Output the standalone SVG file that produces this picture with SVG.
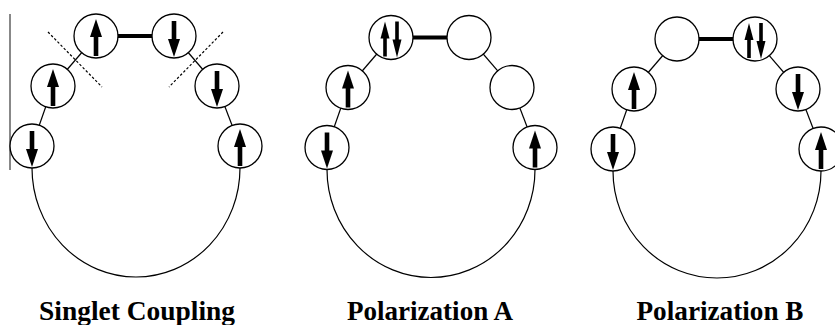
<svg xmlns="http://www.w3.org/2000/svg" width="835" height="325" viewBox="0 0 835 325">
<style>
.c{fill:#fff;stroke:#000;stroke-width:1.3}
.l{stroke:#000;stroke-width:1.2;fill:none}
.b{stroke:#000;stroke-width:4;fill:none}
.d{stroke:#000;stroke-width:1.2;stroke-dasharray:2.5 2;fill:none}
.t{font-family:'Liberation Serif','Times New Roman',Times,'DejaVu Serif',serif;font-weight:700;font-size:27px;text-anchor:middle;fill:#000}
</style>
<defs>
<g id="up"><rect x="-2.3" y="0" width="4.6" height="20"/><polygon points="0,-17 -6,1 6,1"/></g>
<g id="down"><rect x="-2.3" y="-15" width="4.6" height="19"/><polygon points="0,21 -6,3 6,3"/></g>
<g id="up2"><rect x="-1.8" y="0" width="3.6" height="19"/><polygon points="0,-16 -4.5,1 4.5,1"/></g>
<g id="down2"><rect x="-1.8" y="-16" width="3.6" height="19"/><polygon points="0,20 -4.5,2 4.5,2"/></g>
</defs>
<rect width="835" height="325" fill="#fff"/>
<line x1="10" y1="14" x2="10" y2="170" stroke="#888" stroke-width="2"/>
<g id="connectors">
<line class="l" x1="96" y1="36" x2="53" y2="86"/>
<line class="l" x1="53" y1="86" x2="32" y2="146"/>
<line class="l" x1="174" y1="36" x2="217" y2="86"/>
<line class="l" x1="217" y1="86" x2="240" y2="146"/>
<line class="b" x1="96" y1="36" x2="174" y2="36"/>
<path class="l" d="M32,168 A104,109 0 0 0 240,168"/>
<line class="l" x1="391" y1="37.5" x2="348" y2="87.5"/>
<line class="l" x1="348" y1="87.5" x2="327" y2="147.5"/>
<line class="l" x1="469" y1="37.5" x2="512" y2="87.5"/>
<line class="l" x1="512" y1="87.5" x2="535" y2="147.5"/>
<line class="b" x1="391" y1="37.5" x2="469" y2="37.5"/>
<path class="l" d="M327,169.5 A104,108 0 0 0 535,169.5"/>
<line class="l" x1="677" y1="39" x2="634" y2="89"/>
<line class="l" x1="634" y1="89" x2="613" y2="149"/>
<line class="l" x1="755" y1="39" x2="798" y2="89"/>
<line class="l" x1="798" y1="89" x2="821" y2="149"/>
<line class="b" x1="677" y1="39" x2="755" y2="39"/>
<path class="l" d="M613,171 A104,107 0 0 0 821,171"/>
</g>
<g id="cuts">
<line class="d" x1="48" y1="32" x2="102" y2="87"/>
<line class="d" x1="223" y1="32" x2="169" y2="87"/>
</g>
<g id="s1-tl"><circle class="c" cx="96" cy="36" r="22"/><use href="#up" x="96" y="36"/></g>
<g id="s1-tr"><circle class="c" cx="174" cy="36" r="22"/><use href="#down" x="174" y="36"/></g>
<g id="s1-ml"><circle class="c" cx="53" cy="86" r="22"/><use href="#up" x="53" y="86"/></g>
<g id="s1-mr"><circle class="c" cx="217" cy="86" r="22"/><use href="#down" x="217" y="86"/></g>
<g id="s1-bl"><circle class="c" cx="32" cy="146" r="22"/><use href="#down" x="32" y="146"/></g>
<g id="s1-br"><circle class="c" cx="240" cy="146" r="22"/><use href="#up" x="240" y="146"/></g>
<g id="s2-tl"><circle class="c" cx="391" cy="37.5" r="22"/><use href="#up2" x="385" y="37.5"/><use href="#down2" x="397" y="37.5"/></g>
<g id="s2-tr"><circle class="c" cx="469" cy="37.5" r="22"/></g>
<g id="s2-ml"><circle class="c" cx="348" cy="87.5" r="22"/><use href="#up" x="348" y="87.5"/></g>
<g id="s2-mr"><circle class="c" cx="512" cy="87.5" r="22"/></g>
<g id="s2-bl"><circle class="c" cx="327" cy="147.5" r="22"/><use href="#down" x="327" y="147.5"/></g>
<g id="s2-br"><circle class="c" cx="535" cy="147.5" r="22"/><use href="#up" x="535" y="147.5"/></g>
<g id="s3-tl"><circle class="c" cx="677" cy="39" r="22"/></g>
<g id="s3-tr"><circle class="c" cx="755" cy="39" r="22"/><use href="#up2" x="749" y="39"/><use href="#down2" x="761" y="39"/></g>
<g id="s3-ml"><circle class="c" cx="634" cy="89" r="22"/><use href="#up" x="634" y="89"/></g>
<g id="s3-mr"><circle class="c" cx="798" cy="89" r="22"/><use href="#down" x="798" y="89"/></g>
<g id="s3-bl"><circle class="c" cx="613" cy="149" r="22"/><use href="#down" x="613" y="149"/></g>
<g id="s3-br"><circle class="c" cx="821" cy="149" r="22"/><use href="#up" x="821" y="149"/></g>
<g id="labels">
<text class="t" x="137" y="320" textLength="196" lengthAdjust="spacingAndGlyphs">Singlet Coupling</text>
<text class="t" x="430" y="320" textLength="166" lengthAdjust="spacingAndGlyphs">Polarization A</text>
<text class="t" x="720" y="320" textLength="167" lengthAdjust="spacingAndGlyphs">Polarization B</text>
</g>
</svg>
